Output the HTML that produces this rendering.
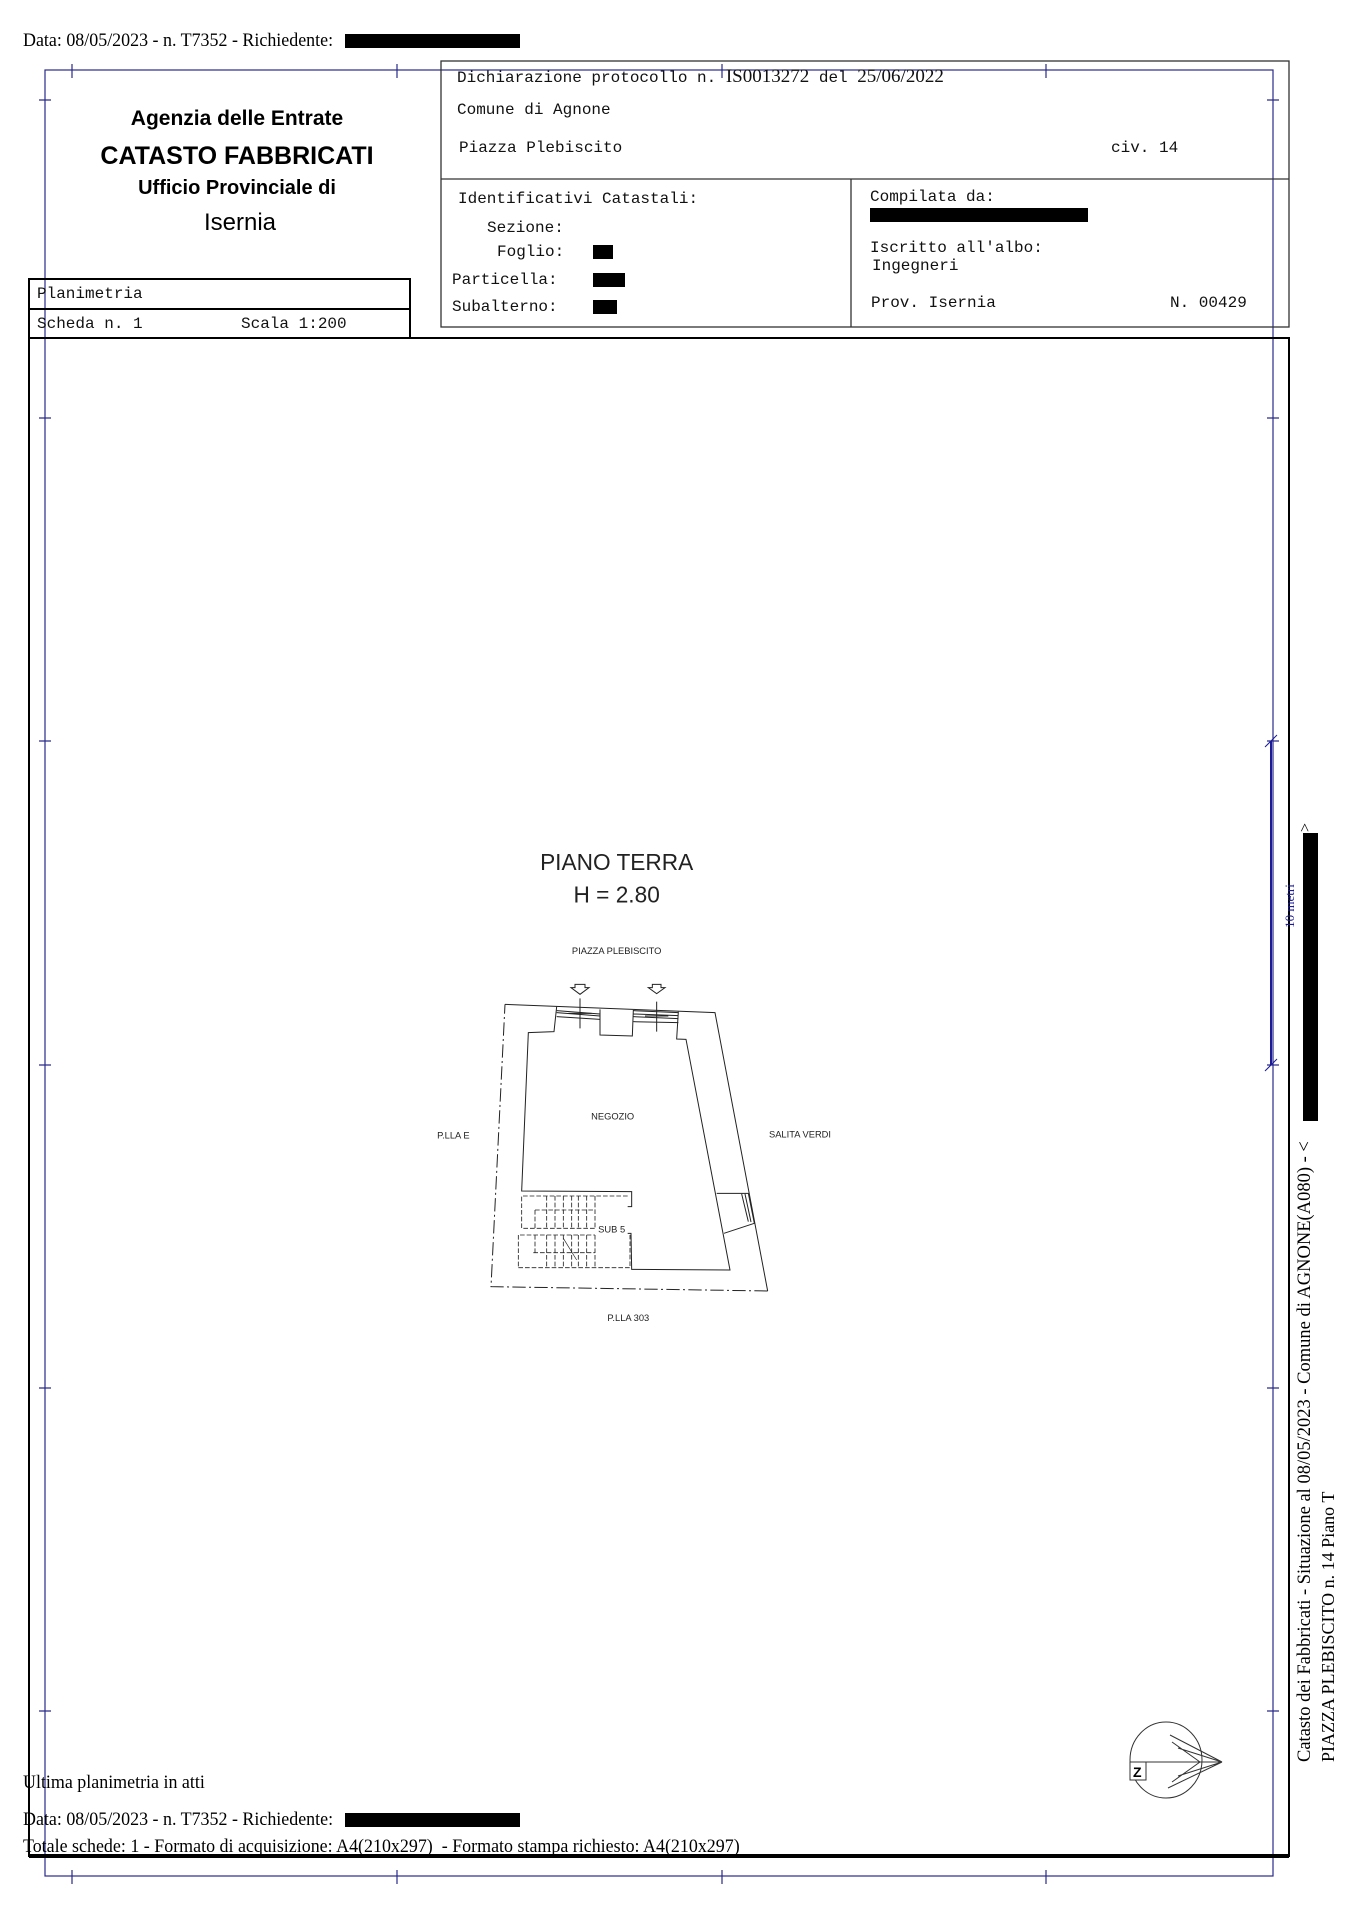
<!DOCTYPE html>
<html><head><meta charset="utf-8"><style>
body{margin:0;width:1357px;height:1920px;background:#fff;position:relative;overflow:hidden;font-family:"Liberation Serif",serif;}
.a{position:absolute;white-space:nowrap;}
.m{font-family:"Liberation Mono",monospace;font-size:16px;color:#111;}
.s{font-family:"Liberation Sans",sans-serif;}
.t{font-family:"Liberation Serif",serif;font-size:18.7px;transform-origin:0 50%;transform:scaleX(.96);}
.red{background:#000;height:14px;position:absolute;}
</style></head><body>
<svg class="a" style="left:0;top:0" width="1357" height="1920">
 <g stroke="#2a2a8a" stroke-width="1.2" fill="none">
  <rect x="45" y="70" width="1228" height="1806"/>
  <path d="M72 64v14M397 64v14M722 64v14M1046 64v14M72 1870v14M397 1870v14M722 1870v14M1046 1870v14"/>
  <path d="M39 100h12M39 418h12M39 741h12M39 1065h12M39 1388h12M39 1711h12M1267 100h12M1267 418h12M1267 741h12M1267 1065h12M1267 1388h12M1267 1711h12"/>
 </g>
 <g stroke="#333" fill="none" stroke-width="1.3">
  <rect x="441" y="61" width="848" height="266"/>
  <line x1="441" y1="179" x2="1289" y2="179"/>
  <line x1="851" y1="179" x2="851" y2="327"/>
 </g>
 <g stroke="#000" fill="none" stroke-width="2">
  <rect x="29" y="279" width="381" height="59"/>
  <line x1="29" y1="309" x2="410" y2="309"/>
  <rect x="29" y="338" width="1260" height="1518"/>
 </g>
 <line x1="29" y1="1856" x2="1289" y2="1856" stroke="#000" stroke-width="4"/>
 <g stroke="#1a1a9a" stroke-width="2">
  <line x1="1271" y1="741" x2="1271" y2="1065"/>
  <line x1="1265" y1="747" x2="1277" y2="735" stroke-width="1"/>
  <line x1="1265" y1="1071" x2="1277" y2="1059" stroke-width="1"/>
 </g>
 <g stroke="#333" fill="none" stroke-width="1">
  <ellipse cx="1166" cy="1760" rx="36" ry="38"/>
  <path d="M1140 1762 L1222 1762 L1170 1735 M1222 1762 L1168 1788 M1222 1762 L1178 1748 M1222 1762 L1178 1776 M1200 1762 L1172 1742 M1200 1762 L1172 1782"/>
  <rect x="1130" y="1762" width="16" height="18" fill="#fff"/>
 </g>
 <text x="1133" y="1777" font-family="Liberation Sans" font-size="14" font-weight="bold">Z</text>
</svg>

<svg class="a" style="left:400px;top:840px" width="480" height="520" viewBox="0 0 1440 1560">
 <g fill="none" stroke="#222" stroke-width="3">
  <path d="M315 493 L945 518 L1103 1353" />
  <path d="M1103 1353 L273 1340 L315 493" stroke-dasharray="40 10 6 10"/>
  <path d="M470 500 L462 575 L385 578 L365 1053 L695 1055 L695 1100 L683 1100"/>
  <path d="M470 512 L600 522 M470 530 L600 538 M470 518 L600 528"/>
  <path d="M600 508 L600 585 L697 588 L700 510"/>
  <path d="M700 512 L835 518 M700 530 L835 536 M700 545 L835 548 M700 522 L835 527"/>
  <path d="M835 515 L830 597 L858 598 L990 1290 L695 1288 L693 1180 L683 1180"/>
  <path d="M950 1060 L1045 1060 L1063 1150 L972 1180 M1025 1062 L1045 1145 M1035 1062 L1053 1146"/>
  <path d="M540 475 V565 M505 520 H575 M770 485 V575 M735 528 H805"/>
  <path d="M525 433 h30 v10 h12 l-27 20 l-27 -20 h12z M757 433 h26 v10 h12 l-25 18 l-25 -18 h12z"/>
  <g stroke-dasharray="14 6" stroke-width="2.5">
   <path d="M683 1068 H365 V1165 H585 M360 1185 H585 M355 1283 H690 V1185 M355 1185 V1283"/>
   <path d="M440 1068 V1165 M465 1068 V1165 M490 1068 V1165 M515 1068 V1165 M535 1068 V1165 M560 1068 V1165 M585 1068 V1165"/>
   <path d="M440 1185 V1283 M465 1185 V1283 M490 1185 V1283 M515 1185 V1283 M535 1185 V1283 M560 1185 V1283 M585 1185 V1283"/>
   <path d="M405 1110 H585 M405 1110 V1165 M400 1238 H585 M405 1185 V1238"/>
  </g>
  <path d="M490 1195 L530 1260" stroke-width="2"/>
 </g>
 <g font-family="Liberation Sans" fill="#222" text-anchor="middle">
  <text x="650" y="90" font-size="68">PIANO TERRA</text>
  <text x="650" y="188" font-size="68">H = 2.80</text>
  <text x="650" y="342" font-size="28">PIAZZA PLEBISCITO</text>
  <text x="638" y="838" font-size="28">NEGOZIO</text>
  <text x="160" y="895" font-size="28">P.LLA E</text>
  <text x="1200" y="892" font-size="28">SALITA VERDI</text>
  <text x="635" y="1178" font-size="28">SUB 5</text>
  <text x="685" y="1443" font-size="28">P.LLA 303</text>
 </g>
</svg>

<div class="a t" style="left:23px;top:30px">Data: 08/05/2023 - n. T7352 - Richiedente:</div>
<div class="red" style="left:345px;top:34px;width:175px"></div>

<div class="a s" style="left:237px;top:107px;transform:translateX(-50%);font-size:21px;font-weight:bold">Agenzia delle Entrate</div>
<div class="a s" style="left:237px;top:142px;transform:translateX(-50%);font-size:25px;font-weight:bold">CATASTO FABBRICATI</div>
<div class="a s" style="left:237px;top:177px;transform:translateX(-50%);font-size:20px;font-weight:bold">Ufficio Provinciale di</div>
<div class="a s" style="left:240px;top:209px;transform:translateX(-50%);font-size:24px">Isernia</div>

<div class="a m" style="left:37px;top:285px">Planimetria</div>
<div class="a m" style="left:37px;top:315px">Scheda n. 1</div>
<div class="a m" style="left:241px;top:315px">Scala 1:200</div>

<div class="a m" style="left:457px;top:66px">Dichiarazione protocollo n. <span style="font-family:'Liberation Serif',serif;font-size:19px">IS0013272</span> del <span style="font-family:'Liberation Serif',serif;font-size:19px">25/06/2022</span></div>
<div class="a m" style="left:457px;top:101px">Comune di Agnone</div>
<div class="a m" style="left:459px;top:139px">Piazza Plebiscito</div>
<div class="a m" style="left:1111px;top:139px">civ. 14</div>
<div class="a m" style="left:458px;top:190px">Identificativi Catastali:</div>
<div class="a m" style="left:487px;top:219px">Sezione:</div>
<div class="a m" style="left:497px;top:243px">Foglio:</div>
<div class="red" style="left:593px;top:245px;width:20px"></div>
<div class="a m" style="left:452px;top:271px">Particella:</div>
<div class="red" style="left:593px;top:273px;width:32px"></div>
<div class="a m" style="left:452px;top:298px">Subalterno:</div>
<div class="red" style="left:593px;top:300px;width:24px"></div>
<div class="a m" style="left:870px;top:188px">Compilata da:</div>
<div class="red" style="left:870px;top:208px;width:218px"></div>
<div class="a m" style="left:870px;top:239px">Iscritto all'albo:</div>
<div class="a m" style="left:872px;top:257px">Ingegneri</div>
<div class="a m" style="left:871px;top:294px">Prov. Isernia</div>
<div class="a m" style="left:1170px;top:294px">N. 00429</div>

<div class="a t" style="left:23px;top:1772px">Ultima planimetria in atti</div>
<div class="a t" style="left:23px;top:1809px">Data: 08/05/2023 - n. T7352 - Richiedente:</div>
<div class="red" style="left:345px;top:1813px;width:175px"></div>
<div class="a t" style="left:23px;top:1836px">Totale schede: 1 - Formato di acquisizione: A4(210x297) &nbsp;- Formato stampa richiesto: A4(210x297)</div>

<div class="a" style="left:1290px;top:906px;transform:translate(-50%,-50%) rotate(180deg);writing-mode:vertical-rl;font-size:13px;color:#1a1a9a">10 metri</div>
<div class="a" style="left:1295px;top:1762px;transform-origin:0 0;transform:rotate(-90deg);font-size:18.5px">Catasto dei Fabbricati - Situazione al 08/05/2023 - Comune di AGNONE(A080) - &lt;</div>
<div class="red" style="left:1303px;top:833px;width:15px;height:288px"></div>
<div class="a" style="left:1297px;top:832px;transform-origin:0 0;transform:rotate(-90deg);font-size:16px">&gt;</div>
<div class="a" style="left:1318px;top:1762px;transform-origin:0 0;transform:rotate(-90deg);font-size:18px">PIAZZA PLEBISCITO n. 14 Piano T</div>
</body></html>
